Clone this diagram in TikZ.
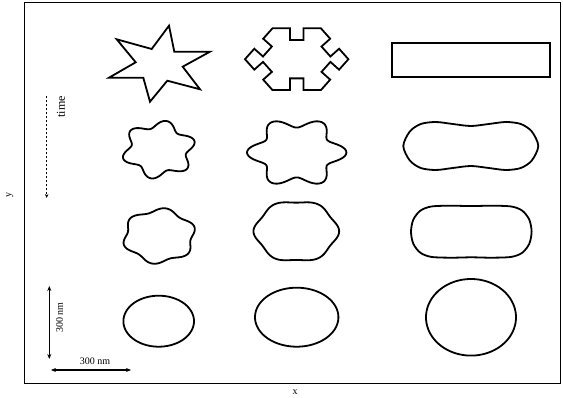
\documentclass[tikz,border=0pt]{standalone}
\usepackage{fontspec}
\setmainfont{Liberation Serif}
\usepackage{tikz}
\usetikzlibrary{positioning,arrows.meta}

\tikzset{
  outline/.style={line width=1.8pt, line join=round},
  scalebar/.style={line width=1.1pt, {Stealth[length=5pt,width=4pt]}-{Stealth[length=5pt,width=4pt]}},
  timebar/.style={line width=0.8pt, dash pattern=on 2.5pt off 1.5pt, -{Stealth[length=4pt,width=3.5pt]}},
  lbl/.style={font=\fontsize{10}{11}\selectfont, inner sep=0pt}
}

\begin{document}
\begin{tikzpicture}[x=1pt,y=-1pt]
\useasboundingbox (0,0) rectangle (563,398);

% frame and axes
\draw[line width=0.9pt] (24,2) rectangle (560,383);
\node[lbl] (xlab) at (295,392) {x};
\node[lbl, rotate=90] (ylab) at (10,195) {y};

% time arrow
\coordinate (t0) at (46.7,96);
\coordinate (t1) at (46.7,198);
\draw[timebar] (t0) -- (t1);
\node[lbl, rotate=90, font=\fontsize{12}{13}\selectfont] (timelab) at (61,107) {time};

% scale bars
\coordinate (v0) at (49.3,286);
\coordinate (v1) at (49.3,359);
\draw[scalebar] (v0) -- (v1);
\node[lbl, rotate=90] (vlab) at (59.5,317.5) {300 nm};
\coordinate (h0) at (51,370);
\coordinate (h1) at (131,370);
\draw[scalebar] (h0) -- (h1);
\node[lbl] (hlab) at (95,361) {300 nm};

% row 1: initial shapes
\draw[outline, line join=miter] (169,25.7) -- (151.7,49) -- (116.7,39.3) -- (135.7,62.3)
  -- (109,77.7) -- (143.3,77.7) -- (150,101.7) -- (167.3,80.7) -- (200,89.3)
  -- (182.7,66.7) -- (210,51.7) -- (174.3,51.7) -- cycle;
\draw[outline, line join=miter] (245,59.2)
  -- (254.3,48.75) -- (263.0,56.5) -- (271.9,46.5) -- (263.2,38.75)
  -- (272.5,28.3)
  -- (290,28.3) -- (290,40) -- (303.4,40) -- (303.4,28.3)
  -- (320.9,28.3)
  -- (330.2,38.75) -- (321.5,46.5) -- (330.4,56.5) -- (339.1,48.75)
  -- (348.4,59.2)
  -- (339.1,69.65) -- (330.4,61.9) -- (321.5,71.9) -- (330.2,79.65)
  -- (320.9,90.1)
  -- (303.4,90.1) -- (303.4,78.4) -- (290,78.4) -- (290,90.1)
  -- (272.5,90.1)
  -- (263.2,79.65) -- (271.9,71.9) -- (263.0,61.9) -- (254.3,69.65)
  -- cycle;
\draw[outline, line join=miter] (391.7,42.7) rectangle (550,77.3);

% rows 2-4: wavy and smoothed shapes
\foreach \cx/\cy/\a/\b/\e/\p in {
  158.8/149.7/32.5/25.5/0.15/18,
  296.7/152.5/42.5/30/0.17/0,
  159.2/236/34.5/26/0.08/20,
  296.3/231.3/41/30/0.045/0,
  158.7/321.2/35.3/25.5/0/0,
  296.7/317.2/41.7/29.5/0/0,
  471/317.3/45/38.3/0/0} {
  \draw[outline] plot[smooth cycle, domain=0:357, samples=120, variable=\t]
    ({\cx+\a*(1+\e*cos(6*(\t+\p)))*cos(\t)}, {\cy+\b*(1+\e*cos(6*(\t+\p)))*sin(\t)});
}

% peanut
\draw[outline, shift={(470.8,146)}] plot[smooth cycle] coordinates {
  (-67.5,0) (-61,-14.5) (-50,-22) (-35,-24) (-18,-22) (0,-20) (18,-22) (35,-24) (50,-22) (61,-14.5)
  (67.5,0) (61,14.5) (50,22) (35,24) (18,22) (0,20) (-18,22) (-35,24) (-50,22) (-61,14.5)};

% stadium
\draw[outline, shift={(471.3,231.7)}] plot[smooth cycle] coordinates {
  (-60.3,0) (-58,-12) (-51,-21) (-40,-25.2) (-20,-26) (0,-25.6) (20,-26) (40,-25.2) (51,-21) (58,-12)
  (60.3,0) (58,12) (51,21) (40,25.2) (20,26) (0,25.6) (-20,26) (-40,25.2) (-51,21) (-58,12)};

\end{tikzpicture}
\end{document}
